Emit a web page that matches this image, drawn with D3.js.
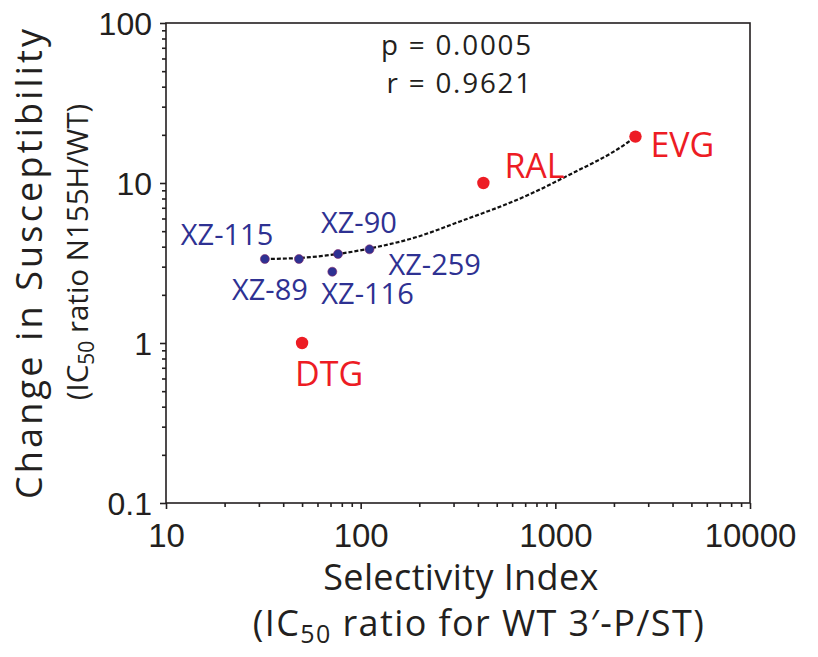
<!DOCTYPE html>
<html>
<head>
<meta charset="utf-8">
<script src="https://cdn.jsdelivr.net/npm/d3@7/dist/d3.min.js"></script>
<style>
  html, body { margin: 0; padding: 0; background: #fff; }
  svg { display: block; font-family: "Open Sans", "Noto Sans", sans-serif; }
</style>
</head>
<body>
<svg id="chart" width="818" height="657"></svg>
<script>
// ---- data ----
const names = ["XZ-115", "XZ-89", "XZ-90", "XZ-116", "XZ-259", "DTG", "RAL", "EVG"];
const selectivity = [32.2, 48.2, 76.5, 71.5, 111, 50, 427, 2580];
const susceptibility = [3.35, 3.35, 3.6, 2.79, 3.85, 1.0, 10.0, 19.5];
const groups = ["XZ", "XZ", "XZ", "XZ", "XZ", "ref", "ref", "ref"];

// dotted trend curve
const trendX = [32.2, 48.2, 76.4, 111.6, 190, 324, 715, 1147, 2332, 2587];
const trendY = [3.35, 3.40, 3.60, 3.90, 4.56, 5.75, 8.35, 11.06, 17.78, 19.5];

const xMajorTicks = [10, 100, 1000, 10000];
const xTickLabels = ["10", "100", "1000", "10000"];
const yMajorTicks = [0.1, 1, 10, 100];
const yTickLabels = ["0.1", "1", "10", "100"];

const statsLines = ["p = 0.0005", "r = 0.9621"];

// ---- layout ----
const svg = d3.select("#chart");
const L = 166, R = 750, T = 23, B = 503;
const x = d3.scaleLog().domain([10, 10000]).range([L, R]);
const y = d3.scaleLog().domain([0.1, 100]).range([B, T]);
const BLUE = "#2e3192", RED = "#ed1c24", INK = "#231f20";

// label offsets (pixels from point) : layout only
const labelOffsets = {
  "XZ-115": [-84, -14], "XZ-89": [-67, 41], "XZ-90": [-17, -21],
  "XZ-116": [-11, 32], "XZ-259": [19, 26], "DTG": [-7, 43],
  "RAL": [21, -5], "EVG": [15, 20]
};

// minor ticks
const minorTicks = (lo, hi) => {
  const out = [];
  for (let d = lo; d < hi; d *= 10) for (let k = 2; k <= 9; k++) out.push(d * k);
  return out;
};
const xMinor = minorTicks(10, 10000);
const yMinor = minorTicks(0.1, 100);

// frame
svg.append("rect").attr("x", L).attr("y", T).attr("width", R - L).attr("height", B - T)
  .attr("fill", "none").attr("stroke", INK).attr("stroke-width", 1.6);

// x axis
const gx = svg.append("g").attr("transform", `translate(0,${B})`);
gx.call(d3.axisBottom(x).tickValues(xMinor).tickSize(4).tickFormat(""));
gx.append("g").call(d3.axisBottom(x).tickValues(xMajorTicks).tickSize(6)
  .tickFormat((d, i) => xTickLabels[i]));
gx.selectAll(".domain").remove();
gx.selectAll("line").attr("stroke", INK).attr("stroke-width", 1.6);
gx.selectAll("text").attr("fill", INK).attr("font-size", 33).attr("dy", null).attr("y", 44);

// y axis
const gy = svg.append("g").attr("transform", `translate(${L},0)`);
gy.call(d3.axisLeft(y).tickValues(yMinor).tickSize(4).tickFormat(""));
gy.append("g").call(d3.axisLeft(y).tickValues(yMajorTicks).tickSize(6)
  .tickFormat((d, i) => yTickLabels[i]));
gy.selectAll(".domain").remove();
gy.selectAll("line").attr("stroke", INK).attr("stroke-width", 1.6);
gy.selectAll("text").attr("fill", INK).attr("font-size", 32).attr("x", -14).attr("dy", "0.36em");

// trend line
const pts = trendX.map((v, i) => [x(v), y(trendY[i])]);
svg.append("path").attr("d", d3.line().curve(d3.curveMonotoneX)(pts))
  .attr("fill", "none").attr("stroke", "#111").attr("stroke-width", 2.2)
  .attr("stroke-dasharray", "4,2");

// points
const data = names.map((n, i) => ({ n, sx: selectivity[i], sy: susceptibility[i], g: groups[i] }));
svg.append("g").selectAll("circle").data(data).join("circle")
  .attr("cx", d => x(d.sx)).attr("cy", d => y(d.sy))
  .attr("r", d => d.g === "XZ" ? 4.5 : 6.2)
  .attr("fill", d => d.g === "XZ" ? BLUE : RED)
  .attr("stroke", d => d.g === "XZ" ? "#8a2a6a" : "none")
  .attr("stroke-width", 0.6);

// point labels
svg.append("g").selectAll("text").data(data).join("text")
  .attr("x", d => x(d.sx) + labelOffsets[d.n][0])
  .attr("y", d => y(d.sy) + labelOffsets[d.n][1])
  .attr("fill", d => d.g === "XZ" ? BLUE : RED)
  .attr("font-size", d => d.g === "XZ" ? 29 : 34)
  .text(d => d.n);

// stats text (two lines)
svg.append("g").selectAll("text").data(statsLines).join("text")
  .attr("text-anchor", "end").attr("fill", INK)
  .attr("font-size", 27.8).attr("letter-spacing", 1.8)
  .attr("x", 533).attr("y", (d, i) => 55 + i * 38)
  .text(d => d);

// x title
svg.append("text").attr("x", 461).attr("y", 590).attr("text-anchor", "middle")
  .attr("fill", INK).attr("font-size", 36).attr("letter-spacing", 0.4).text("Selectivity Index");
const xt2 = svg.append("text").attr("x", 479).attr("y", 636).attr("text-anchor", "middle")
  .attr("fill", INK).attr("font-size", 36).attr("letter-spacing", 1.4);
xt2.append("tspan").text("(IC");
xt2.append("tspan").attr("font-size", 25).attr("dy", 7).text("50");
xt2.append("tspan").attr("dy", -7).text(" ratio for WT 3\u2032-P/ST)");

// y title
svg.append("text").attr("transform", "translate(42,264) rotate(-90)")
  .attr("text-anchor", "middle").attr("fill", INK).attr("font-size", 36)
  .attr("textLength", 470).attr("lengthAdjust", "spacing")
  .text("Change in Susceptibility");
const yt2 = svg.append("text").attr("transform", "translate(88,252) rotate(-90)")
  .attr("text-anchor", "middle").attr("fill", INK).attr("font-size", 29.5);
yt2.append("tspan").text("(IC");
yt2.append("tspan").attr("font-size", 21).attr("dy", 6).text("50");
yt2.append("tspan").attr("dy", -6).text(" ratio N155H/WT)");
</script>
</body>
</html>
